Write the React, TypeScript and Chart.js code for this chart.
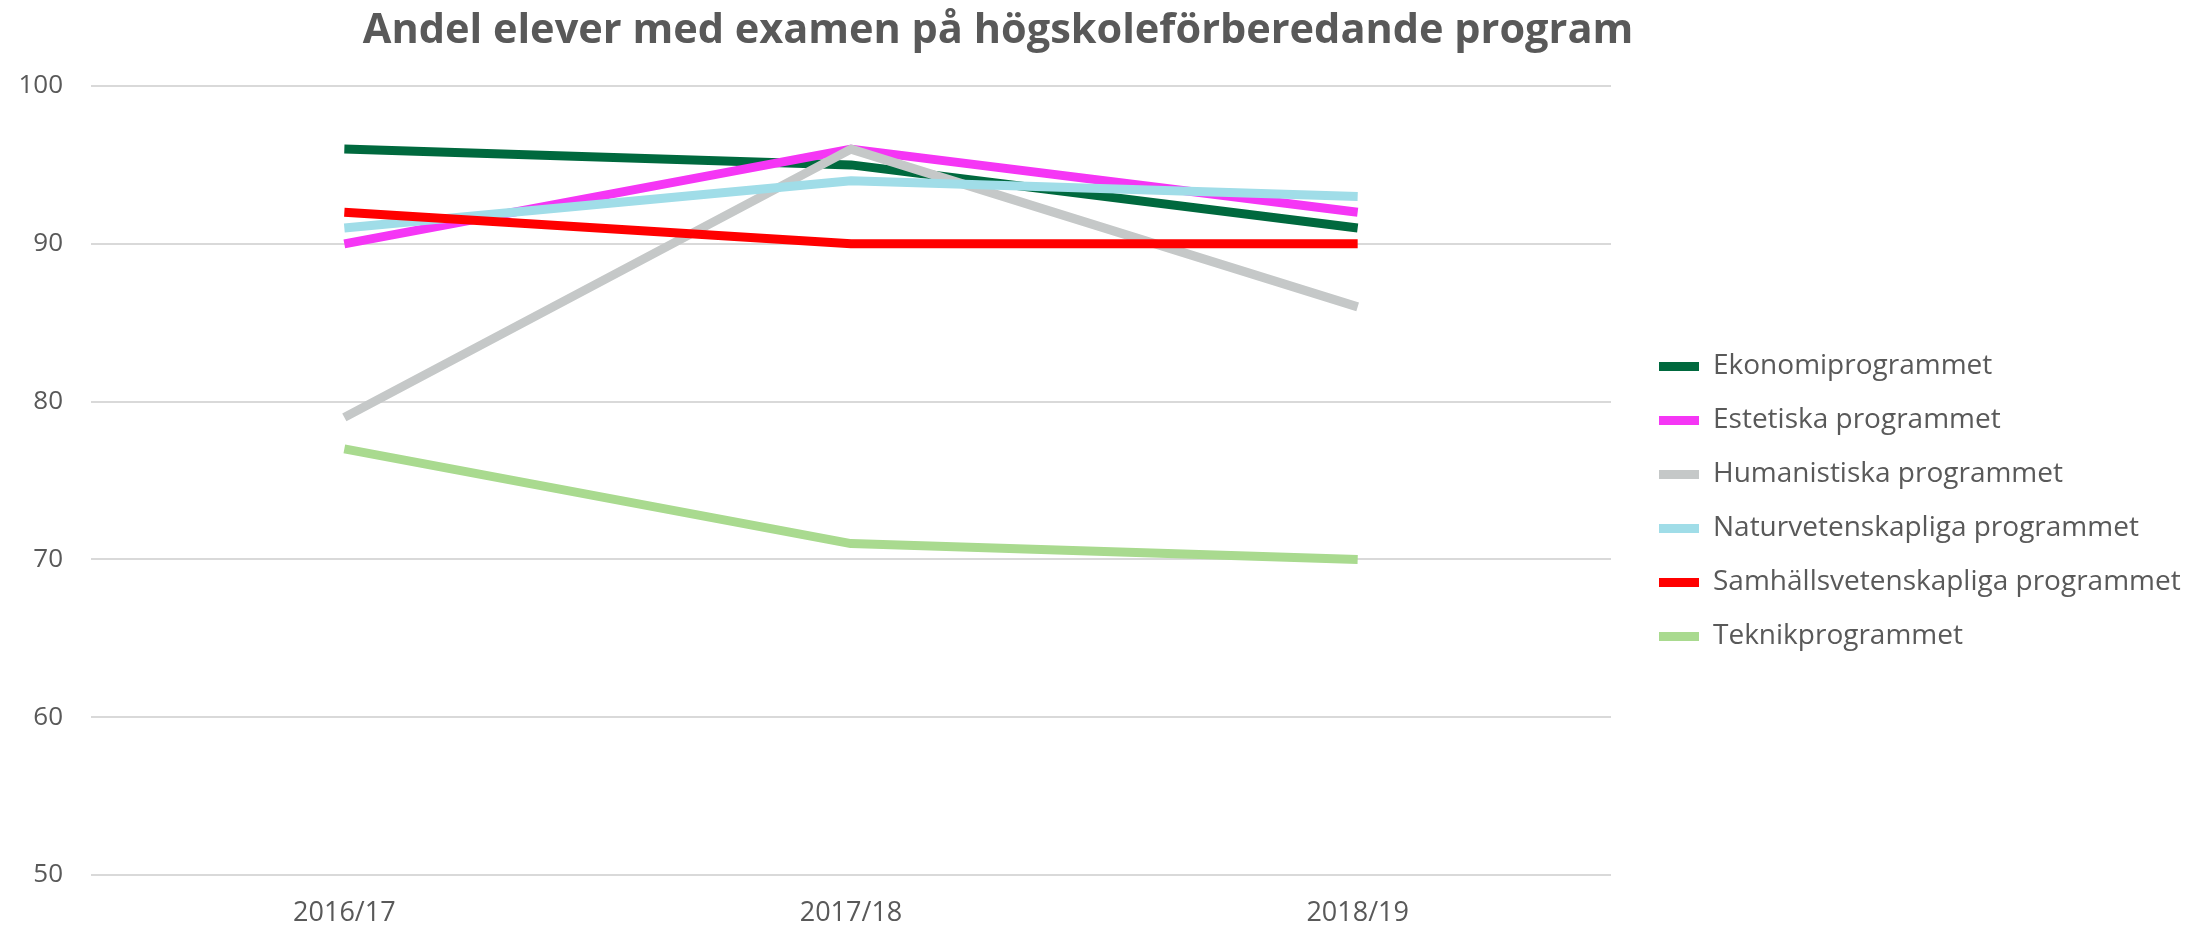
import React, { useEffect, useRef } from "react";
import { Chart, registerables } from "chart.js";

Chart.register(...registerables);

const TITLE = "Andel elever med examen på högskoleförberedande program";
const categories = ["2016/17", "2017/18", "2018/19"];
const seriesNames = [
  "Ekonomiprogrammet",
  "Estetiska programmet",
  "Humanistiska programmet",
  "Naturvetenskapliga programmet",
  "Samhällsvetenskapliga programmet",
  "Teknikprogrammet",
];
const ekonomi = [96, 95, 91];
const estetiska = [90, 96, 92];
const humanistiska = [79, 96, 86];
const naturvetenskapliga = [91, 94, 93];
const samhallsvetenskapliga = [92, 90, 90];
const teknik = [77, 71, 70];
const seriesValues = [ekonomi, estetiska, humanistiska, naturvetenskapliga, samhallsvetenskapliga, teknik];
const seriesColors = ["#00693E", "#F536F5", "#C5C8C8", "#A0DDE8", "#FF0000", "#A9DA8F"];
const yTicks = [50, 60, 70, 80, 90, 100];

const TEXT = "#595959";
const FONT = '"Open Sans", "Noto Sans", sans-serif';

export default function App() {
  const ref = useRef<HTMLCanvasElement | null>(null);

  useEffect(() => {
    document.body.style.margin = "0";
    document.body.style.overflow = "hidden";
    const canvas = ref.current;
    if (!canvas) return;

    const titlePlugin = {
      id: "customTitle",
      afterDraw(chart: any) {
        const ctx = chart.ctx;
        ctx.save();
        ctx.font = `bold 41.5px ${FONT}`;
        ctx.fillStyle = TEXT;
        ctx.textAlign = "center";
        ctx.textBaseline = "alphabetic";
        ctx.fillText(TITLE, 998, 43);
        ctx.restore();
      },
    };

    const legendWidthPlugin = {
      id: "legendWidth",
      afterInit(chart: any) {
        const lg = chart.legend;
        if (lg && !lg.__patched) {
          const orig = lg.fit.bind(lg);
          lg.fit = function () {
            orig();
            lg.width = 568;
          };
          lg.__patched = true;
        }
      },
    };

    const n = seriesNames.length;
    const chart = new Chart(canvas, {
      type: "line",
      data: {
        labels: categories,
        datasets: seriesNames.map((name, i) => ({
          label: name,
          data: seriesValues[i],
          borderColor: seriesColors[i],
          backgroundColor: seriesColors[i],
          borderWidth: 9,
          pointRadius: 0,
          pointHoverRadius: 0,
          tension: 0,
          borderCapStyle: "butt" as const,
          borderJoinStyle: "round" as const,
          order: n - i,
          yAxisID: "y",
        })),
      },
      options: {
        responsive: false,
        animation: false,
        layout: { padding: { top: 86, left: 0, right: 0, bottom: 0 } },
        plugins: {
          title: { display: false },
          tooltip: { enabled: false },
          legend: {
            display: true,
            position: "right",
            align: "center",
            fullSize: false,
            title: {
              display: true,
              text: "",
              font: { family: FONT, size: 10 },
              padding: { top: 15, bottom: 15 },
            },
            labels: {
              boxWidth: 40,
              boxHeight: 9,
              padding: 26,
              color: TEXT,
              font: { family: FONT, size: 28 },
              sort: (a: any, b: any) => a.datasetIndex - b.datasetIndex,
              generateLabels: (chart: any) => {
                const items = Chart.defaults.plugins.legend.labels.generateLabels(chart);
                return items.map((it: any) => ({ ...it, fillStyle: it.strokeStyle, lineWidth: 0 }));
              },
            },
          },
        },
        scales: {
          x: {
            type: "category",
            offset: true,
            grid: { display: false, drawTicks: false },
            border: { display: false },
            ticks: {
              color: TEXT,
              font: { family: FONT, size: 27 },
              padding: 22,
              maxRotation: 0,
            },
            afterFit: (scale: any) => {
              scale.height = 54;
            },
          },
          y: {
            type: "linear",
            position: "left",
            min: 50,
            max: 100,
            afterBuildTicks: (scale: any) => {
              scale.ticks = yTicks.map((v) => ({ value: v }));
            },
            afterFit: (scale: any) => {
              scale.width = 91;
            },
            grid: { color: "#D9D9D9", lineWidth: 2, drawTicks: false },
            border: { display: false },
            ticks: {
              color: TEXT,
              font: { family: FONT, size: 26 },
              padding: 28,
            },
          },
          yR: {
            type: "linear",
            position: "right",
            display: true,
            grid: { display: false, drawTicks: false },
            border: { display: false },
            ticks: { display: false },
            afterFit: (scale: any) => {
              scale.width = 22;
            },
          },
        },
      },
      plugins: [titlePlugin, legendWidthPlugin],
    } as any);

    return () => {
      chart.destroy();
    };
  }, []);

  return (
    <div style={{ width: 2201, height: 929 }}>
      <canvas ref={ref} width={2201} height={929} style={{ display: "block", width: 2201, height: 929 }} />
    </div>
  );
}
